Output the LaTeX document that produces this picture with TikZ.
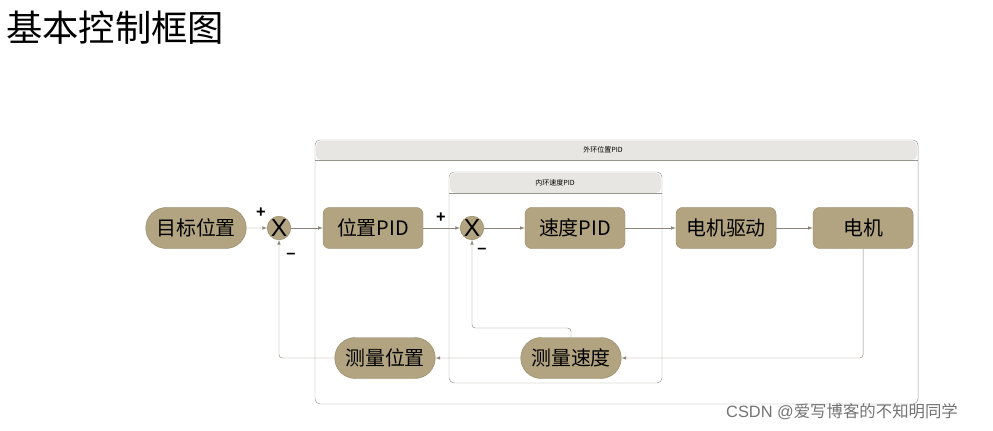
\documentclass[tikz,border=0pt]{standalone}
\usepackage{fontspec}
\setmainfont{Liberation Sans}
\newfontfamily\cjk{Noto Sans CJK SC}
\usetikzlibrary{positioning,calc,shapes.misc}
\definecolor{boxfill}{RGB}{178,164,128}
\definecolor{boxline}{RGB}{150,138,105}
\definecolor{wire}{RGB}{140,134,122}
\definecolor{frame}{RGB}{150,150,145}
\definecolor{band}{RGB}{232,230,226}
\begin{document}
\begin{tikzpicture}[x=0.03cm, y=-0.03cm,
				block/.style={rectangle, rounded corners=2mm, draw=boxline, fill=boxfill, minimum width=3cm, minimum height=1.23cm, font=\cjk\fontsize{17}{17}\selectfont},
				pill/.style={rounded rectangle, draw=boxline, fill=boxfill, minimum width=3.25cm, minimum height=1.23cm, font=\cjk\fontsize{17}{17}\selectfont},
				sum/.style={circle, draw=boxline, fill=boxfill, minimum size=6.6mm, inner sep=0pt, font=\fontsize{21}{21}\selectfont},
				sign/.style={font=\bfseries\fontsize{14}{14}\selectfont, inner sep=0pt},
				wire/.style={draw=wire, thin, -latex}
			]
			\useasboundingbox (0,0) rectangle (993,431);
			\node[anchor=west, font=\cjk\fontsize{31}{31}\selectfont] (title) at (2,28) {基本控制框图};
			% frames
			\draw[frame, rounded corners=1.5mm] (315,140) rectangle (918,404);
			\fill[band, rounded corners=1.5mm] (316,141) rectangle (917,160);
			\draw[frame] (315,160) -- (918,160);
			\node[font=\cjk\fontsize{6}{6}\selectfont] (outer) at (603,150) {外环位置PID};
			\draw[frame, rounded corners=1.5mm] (449,172) rectangle (662,383);
			\fill[band, rounded corners=1.5mm] (450,173) rectangle (661,193);
			\draw[frame] (449,193) -- (662,193);
			\node[font=\cjk\fontsize{6}{6}\selectfont] (inner) at (555,183) {内环速度PID};
			% blocks
			\node[pill] (target) at (196,228) {目标位置};
			\node[sum] (sum1) at (279,228) {X};
			\node[block] (pospid) at (373,228) {位置PID};
			\node[sum] (sum2) at (472,228) {X};
			\node[block] (spdpid) at (575,228) {速度PID};
			\node[block] (drive) at (726,228) {电机驱动};
			\node[block] (motor) at (863,228) {电机};
			\node[pill] (measspd) at (571,358) {测量速度};
			\node[pill] (measpos) at (385,358) {测量位置};
			\node[sign] (p1) at (261,213) {+};
			\node[sign] (m1) at (291,256) {\textendash};
			\node[sign] (p2) at (441,218) {+};
			\node[sign] (m2) at (482,251) {\textendash};
			\node[font=\fontsize{14}{14}\selectfont, text=black!55] (mark) at (842,412) {CSDN @{\cjk 爱写博客的不知明同学}};
			% connectors
			\draw[wire] (target) -- (sum1);
			\draw[wire] (sum1) -- (pospid);
			\draw[wire] (pospid) -- (sum2);
			\draw[wire] (sum2) -- (spdpid);
			\draw[wire] (spdpid) -- (drive);
			\draw[wire] (drive) -- (motor);
			\draw[wire, rounded corners=1mm] (motor.south) |- (measspd.east);
			\draw[wire] (measspd) -- (measpos);
			\draw[wire, rounded corners=1mm] (measpos.west) -| (sum1.south);
			\draw[wire, rounded corners=1mm] (measspd.north) |- ($(sum2.south)+(0,88)$) -- (sum2.south);
			\end{tikzpicture}
\end{document}
